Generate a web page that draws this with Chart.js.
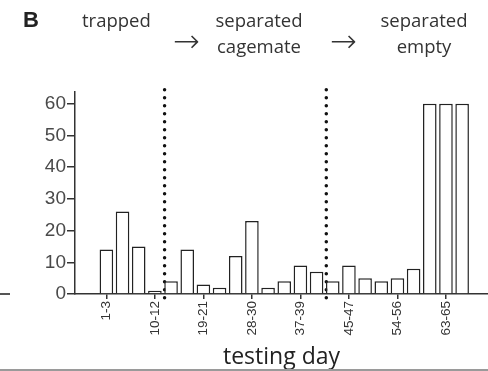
<!DOCTYPE html>
<html>
<head>
<meta charset="utf-8">
<script src="https://cdn.jsdelivr.net/npm/chart.js@4"></script>
<style>
  html, body { margin: 0; padding: 0; background: #fff; }
  #wrap { position: relative; width: 488px; height: 371px; overflow: hidden; }
  #myChart { position: absolute; left: 0; top: 0; }
  .lbl { position: absolute; font-family: "Open Sans", sans-serif; font-size: 18.5px; color: #333; line-height: 26px; white-space: nowrap; }
  .arrow { position: absolute; font-family: "DejaVu Sans", sans-serif; font-weight: 200; font-size: 32px; color: #333; line-height: 32px; }
  #panel { position: absolute; left: 23px; top: 9px; font-family: "Liberation Sans", Arial, sans-serif; font-weight: bold; font-size: 22px; line-height: 22px; color: #222; }
  #stub { position: absolute; left: 0; top: 293px; width: 10px; height: 1.5px; background: #555; }
  #frame { position: absolute; left: 0; top: 369px; width: 488px; height: 2px; background: #9a9a9a; }
</style>
</head>
<body>
<div id="wrap">
  <canvas id="myChart" width="488" height="371"></canvas>
  <div id="panel">B</div>
  <div class="lbl" style="left:82px; top:7px;">trapped</div>
  <div class="lbl" style="left:259px; top:7px; transform:translateX(-50%); text-align:center;">separated<br>cagemate</div>
  <div class="lbl" style="left:424px; top:7px; transform:translateX(-50%); text-align:center;">separated<br>empty</div>
  <div class="arrow" style="left:173px; top:25px;">→</div>
  <div class="arrow" style="left:330px; top:25px;">→</div>
  <div id="stub"></div>
  <div id="frame"></div>
</div>
<script>
// Bin values, one bar per 3-day block
const binValues = [14, 26, 15, 1, 4, 14, 3, 2, 12, 23, 2, 4, 9, 7, 4, 9, 5, 4, 5, 8, 60, 60, 60];

// Labelled bins (bar number) and their text
const tickBins = [1, 4, 7, 10, 13, 16, 19, 22];
const tickLabels = ['1-3', '10-12', '19-21', '28-30', '37-39', '45-47', '54-56', '63-65'];

// y ticks
const yTicks = [0, 10, 20, 30, 40, 50, 60];

// where the condition changes (between bars)
const phaseBreaks = [4.6, 14.6];
const breakSpan = [-1.2, 66.2];

const ctx = document.getElementById('myChart').getContext('2d');

const barPoints = binValues.map((v, i) => ({ x: i + 1, y: v }));

const breakSets = phaseBreaks.map(b => ({
    type: 'line',
    data: breakSpan.map(y => ({ x: b, y: y })),
    borderColor: '#111',
    borderWidth: 3.5,
    borderDash: [0, 8],
    borderCapStyle: 'round',
    pointRadius: 0,
    fill: false,
    clip: false
}));

const chart = new Chart(ctx, {
    type: 'bar',
    data: {
        datasets: [{
            type: 'bar',
            data: barPoints,
            backgroundColor: '#fff',
            borderColor: '#222',
            borderWidth: 1.5,
            categoryPercentage: 1,
            barPercentage: 0.84
        }, ...breakSets]
    },
    options: {
        responsive: false,
        animation: false,
        layout: { padding: { top: 92, left: 0, right: 0, bottom: 0 } },
        plugins: { legend: { display: false }, tooltip: { enabled: false } },
        scales: {
            x: {
                type: 'linear',
                min: -0.94,
                max: 24.6,
                offset: false,
                afterBuildTicks: s => { s.ticks = tickBins.map(v => ({ value: v })); },
                afterFit: s => { s.height = 77; },
                grid: { offset: false, drawOnChartArea: false, drawTicks: true, tickLength: 5, color: '#333', lineWidth: 1.5 },
                border: { display: true, color: '#333', width: 1.5 },
                ticks: {
                    autoSkip: false,
                    minRotation: 90,
                    maxRotation: 90,
                    padding: 2,
                    color: '#333',
                    font: { family: 'Liberation Sans', size: 13.5 },
                    callback: (v, i) => tickLabels[i]
                },
                title: {
                    display: true,
                    text: 'testing day',
                    color: '#222',
                    font: { family: 'Open Sans', size: 23 },
                    padding: { top: 0, bottom: 0 }
                }
            },
            y: {
                min: 0,
                max: 63.7,
                afterBuildTicks: s => { s.ticks = yTicks.map(v => ({ value: v })); },
                afterFit: s => { s.width = 75; },
                grid: { drawOnChartArea: false, drawTicks: true, tickLength: 8, color: '#333', lineWidth: 1.5 },
                border: { display: true, color: '#333', width: 1.5 },
                ticks: {
                    padding: 1,
                    color: '#4a4a4a',
                    font: { family: 'Liberation Sans', size: 19 }
                }
            }
        }
    }
});
</script>
</body>
</html>
